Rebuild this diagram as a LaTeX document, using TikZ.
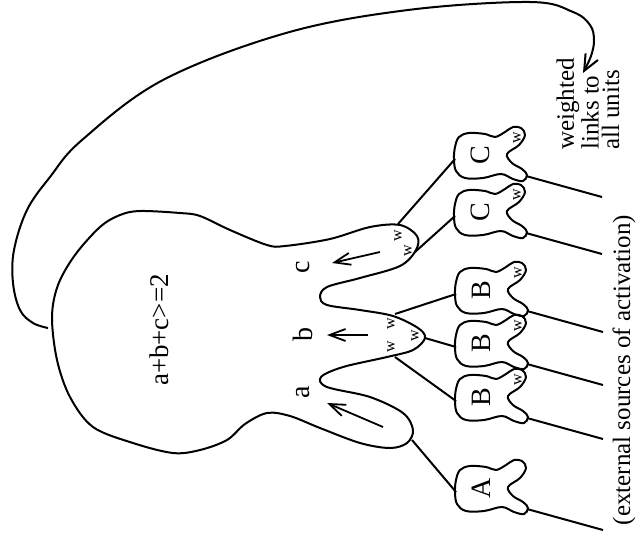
\documentclass[tikz,border=0pt]{standalone}
\usepackage{fontspec}
\setmainfont{Liberation Serif}
\usetikzlibrary{arrows.meta}
\tikzset{
  stroke/.style={line width=1pt, line join=round},
  txt/.style={inner sep=0pt, rotate=90, font=\fontsize{12.5}{10.25}\selectfont},
  bigtxt/.style={inner sep=0pt, rotate=90, font=\fontsize{14}{14}\selectfont},
  smalltxt/.style={inner sep=0pt, rotate=90, font=\fontsize{8}{8}\selectfont},
  flowarrow/.style={line width=0.9pt, -{Straight Barb[length=8pt,width=6pt]}},
  linkarrow/.style={line width=1pt, -{Straight Barb[length=8pt,width=7pt]}},
}
\newcommand\drawunit[5]{%
  \begin{scope}[shift={(#2,#3)}]
    \draw[stroke] plot[smooth cycle,tension=0.6] coordinates {(-26,-8) (-22,-18) (-12,-22) (4,-21) (14,-18) (24,-23) (32,-28) (40,-27) (44,-20) (38,-10) (26,-1) (31,8) (41,14) (46,20) (42,26) (32,24) (20,19) (2,23) (-16,23) (-25,16) (-27,4)};
    \node[bigtxt] (#1) at (-1,0) {#4};
    \coordinate (#1-in) at (-26,4);
    \coordinate (#1-out) at (45,21);
    \coordinate (#1-ext) at (121,42);
    #5
  \end{scope}}
\begin{document}
\begin{tikzpicture}[x=0.5pt,y=-0.5pt]
\useasboundingbox (0,0) rectangle (636,547);
% big body
\draw[stroke] plot[smooth cycle,tension=0.55] coordinates {
 (52,317) (58,285) (75,255) (100,227) (120,215) (140,211) (180,213) (200,216)
 (230,230) (267,245) (285,246) (330,239) (370,227) (400,225) (417,236) (416,250)
 (400,266) (360,278) (327,287) (320,297) (327,305) (360,310) (393,316) (418,328)
 (425,338) (413,350) (387,357) (343,367) (321,377) (327,387) (370,397) (403,413)
 (413,430) (407,443) (390,448) (360,443) (320,428) (290,416) (267,413) (245,424)
 (227,440) (200,450) (173,453) (133,443) (93,427) (70,397) (57,360)};
\node[txt, font=\fontsize{13.5}{13.5}\selectfont] (rule) at (159,330) {a+b+c>=2};
% finger labels and arrows
\node[bigtxt] (la) at (303,392) {a};
\node[bigtxt] (lb) at (303,334) {b};
\node[bigtxt] (lc) at (303,267) {c};
\coordinate (a0) at (383,427); \coordinate (a1) at (327,403);
\coordinate (b0) at (368,335); \coordinate (b1) at (327,335);
\coordinate (c0) at (380,252); \coordinate (c1) at (332,263);
\draw[flowarrow] (a0) -- (a1);
\draw[flowarrow] (b0) -- (b1);
\draw[flowarrow] (c0) -- (c1);
% finger attach points
\coordinate (fa) at (412,440);
\coordinate (fb1) at (395,314);
\coordinate (fb2) at (425,338);
\coordinate (fb3) at (395,357);
\coordinate (fc1) at (398,224);
\coordinate (fc2) at (415,252);
% weights on fingers
\node[smalltxt] (wc1) at (398,236) {w};
\node[smalltxt] (wc2) at (408,251) {w};
\node[smalltxt] (wb1) at (391,324) {w};
\node[smalltxt] (wb2) at (391,347) {w};
\node[smalltxt] (wb3) at (415,336) {w};
% units
\drawunit{C1}{481}{155}{C}{\node[smalltxt] (C1-w) at (36,-17) {w};}
\drawunit{C2}{481}{212}{C}{\node[smalltxt] (C2-w) at (36,-17) {w};}
\drawunit{B1}{482}{290}{B}{\node[smalltxt] (B1-w) at (36,-17) {w};}
\drawunit{B2}{482}{343}{B}{\node[smalltxt] (B2-w) at (36,-17) {w};}
\drawunit{B3}{482}{397}{B}{\node[smalltxt] (B3-w) at (36,-17) {w};}
\drawunit{A}{482}{488}{A}{}
% links fingers -> units
\draw[stroke] (fa) -- (A-in);
\draw[stroke] (fb1) -- (B1-in);
\draw[stroke] (fb2) -- (B2-in);
\draw[stroke] (fb3) -- (B3-in);
\draw[stroke] (fc1) -- (C1-in);
\draw[stroke] (fc2) -- (C2-in);
% external sources
\foreach \u in {C1,C2,B1,B2,B3,A} \draw[stroke] (\u-out) -- (\u-ext);
\node[txt] (ext) at (624,370) {(external sources of activation)};
% feedback link
\coordinate (fbstart) at (48,328);
\draw[linkarrow] plot[smooth,tension=0.6] coordinates {(fbstart) (33,323) (20,310) (13,283) (14,250) (27,210) (50,177) (82,140) (163,80) (286,33) (408,10) (530,2) (573,12) (590,25) (594,40) (591,56) (583,73)};
\node[txt, align=left] (wl) at (588,104) {weighted\\links to\\all units};
\end{tikzpicture}
\end{document}
